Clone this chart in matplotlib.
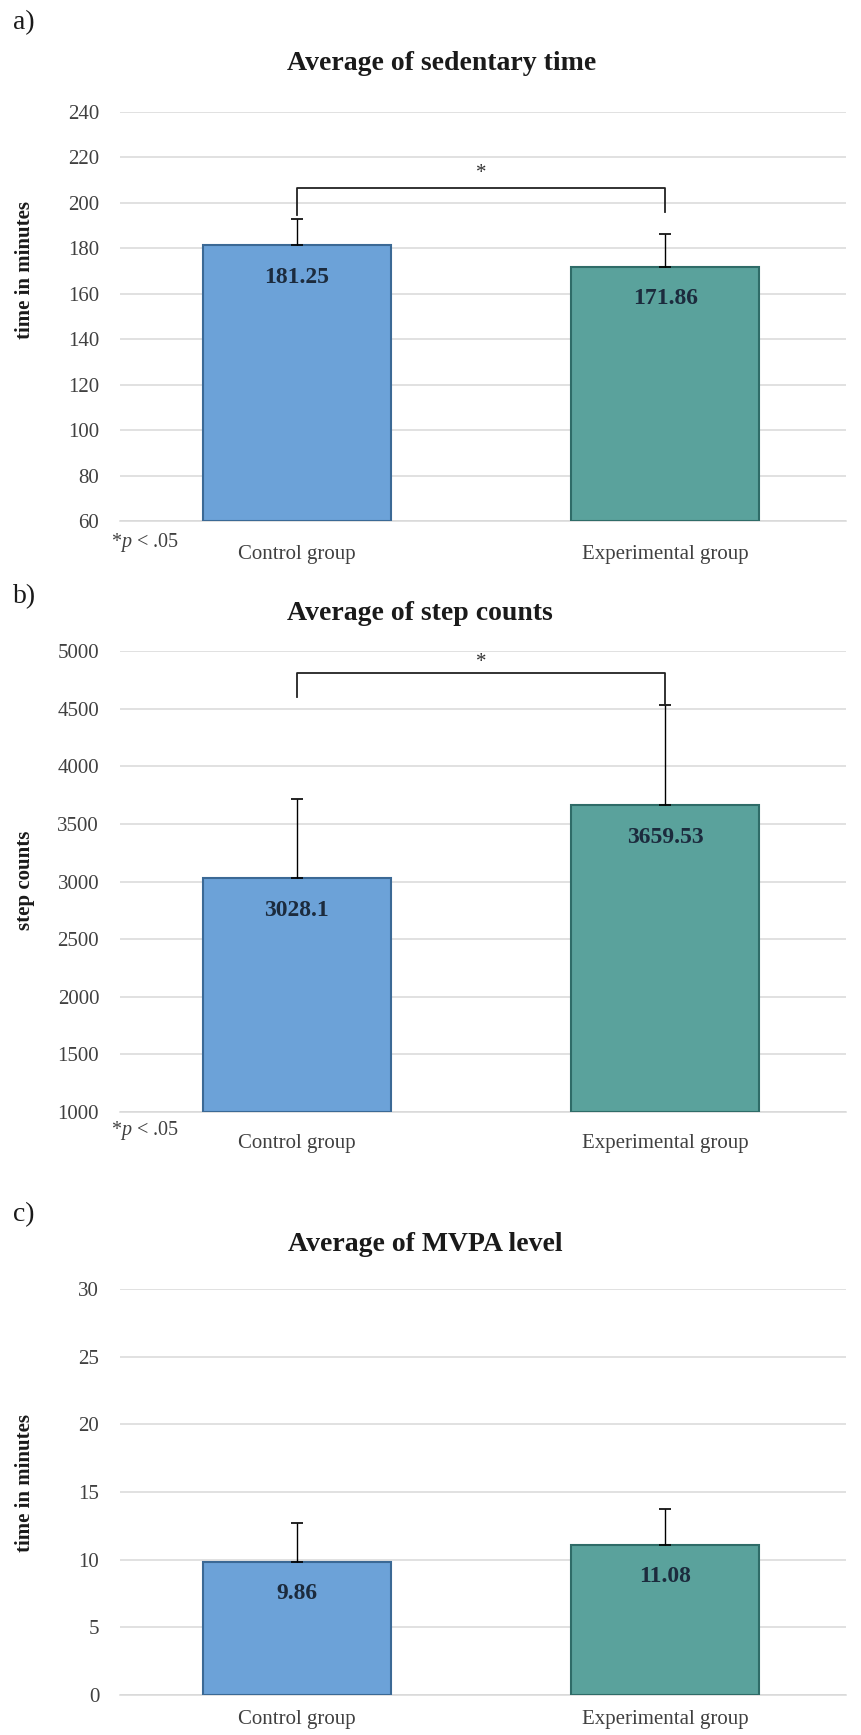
import matplotlib
matplotlib.use("Agg")
import matplotlib.pyplot as plt

plt.rcParams["font.family"] = ["Liberation Serif", "DejaVu Serif"]
plt.rcParams["mathtext.fontset"] = "custom"
plt.rcParams["mathtext.rm"] = "Liberation Serif"
plt.rcParams["mathtext.it"] = "Liberation Serif:italic"

# Data
groups = ["Control group", "Experimental group"]

sed_means = [181.25, 171.86]
sed_err = [11.7, 14.3]
sed_ticks = [60, 80, 100, 120, 140, 160, 180, 200, 220, 240]

step_means = [3028.1, 3659.53]
step_err = [685, 875]
step_ticks = [1000, 1500, 2000, 2500, 3000, 3500, 4000, 4500, 5000]

mvpa_means = [9.86, 11.08]
mvpa_err = [2.85, 2.65]
mvpa_ticks = [0, 5, 10, 15, 20, 25, 30]

# significance brackets: (bar height, left leg end, right leg end, star y)
sed_bracket = [206.4, 194.7, 196.1, 213]
step_bracket = [4812, 4598, 4531, 4896]

fill_colors = ["#6ca2d8", "#5aa29c"]
edge_colors = ["#3b6995", "#2f6c68"]
grid_col = "#d9d9d9"
text_col = "#404040"

W, H = 861, 1735
fig = plt.figure(figsize=(W / 100, H / 100), dpi=100)


def px_axes(top, bottom, left=120, right=846):
    return fig.add_axes([left / W, 1 - bottom / H, (right - left) / W, (bottom - top) / H])


def draw_panel(ax, means, errs, ticks, xpad):
    x = [0, 1]
    ax.bar(x, [m - ticks[0] for m in means], bottom=ticks[0], width=0.51,
           color=fill_colors, edgecolor=edge_colors, linewidth=1.5, zorder=3)
    ax.errorbar(x, means, yerr=[[0, 0], errs], fmt="none", ecolor="black",
                elinewidth=1, capsize=4.5, capthick=1.2, zorder=4)
    for xi, m in zip(x, means):
        label = f"{m:g}"
        ax.annotate(label, (xi, m), xytext=(0, -23), textcoords="offset points",
                    ha="center", va="center", fontsize=17, fontweight="bold",
                    color="#1c2b3d", zorder=5)
    ax.set_xlim(-0.48, 1.49)
    ax.set_ylim(ticks[0], ticks[-1])
    ax.set_yticks(ticks)
    ax.set_xticks(x)
    ax.set_xticklabels(groups)
    ax.yaxis.grid(True, color=grid_col, linewidth=1.1, zorder=0)
    ax.set_axisbelow(True)
    for s in ["top", "right", "left"]:
        ax.spines[s].set_visible(False)
    ax.spines["bottom"].set_color(grid_col)
    ax.spines["bottom"].set_linewidth(1.1)
    ax.tick_params(axis="both", length=0, labelsize=15, colors=text_col)
    ax.tick_params(axis="y", pad=15)
    ax.tick_params(axis="x", pad=xpad)


def draw_bracket(ax, br):
    top, left_end, right_end, star = br
    ax.plot([0, 0, 1, 1], [left_end, top, top, right_end], color="#222222",
            linewidth=1.3, zorder=4)
    ax.text(0.5, star, "*", ha="center", va="center", fontsize=15, color="#333333")


ax_a = px_axes(112, 521)
draw_panel(ax_a, sed_means, sed_err, sed_ticks, 17)
draw_bracket(ax_a, sed_bracket)

ax_b = px_axes(651, 1112)
draw_panel(ax_b, step_means, step_err, step_ticks, 16)
draw_bracket(ax_b, step_bracket)

ax_c = px_axes(1289, 1695)
draw_panel(ax_c, mvpa_means, mvpa_err, mvpa_ticks, 11)

# titles, panel letters, y labels
titles = ["Average of sedentary time", "Average of step counts", "Average of MVPA level"]
title_x = [442, 420, 425]
title_y = [63, 613, 1244]
letters = ["a)", "b)", "c)"]
letter_y = [23, 597, 1215]
ylabels = ["time in minutes", "step counts", "time in minutes"]
ylabel_y = [270, 880, 1483]

for t, tx, ty in zip(titles, title_x, title_y):
    fig.text(tx / W, 1 - ty / H, t, ha="center", va="center", fontsize=20,
             fontweight="bold", color="#1a1a1a")
for l, ly in zip(letters, letter_y):
    fig.text(13 / W, 1 - ly / H, l, ha="left", va="center", fontsize=20, color="#1a1a1a")
for yl, yy in zip(ylabels, ylabel_y):
    fig.text(25 / W, 1 - yy / H, yl, ha="center", va="center", rotation=90,
             fontsize=15, fontweight="bold", color="#1a1a1a")

for py in [543, 1131]:
    fig.text(111 / W, 1 - py / H, "*$\\it{p}$ < .05", ha="left", va="center",
             fontsize=14.5, color=text_col)

fig.savefig("out.png", dpi=100)
